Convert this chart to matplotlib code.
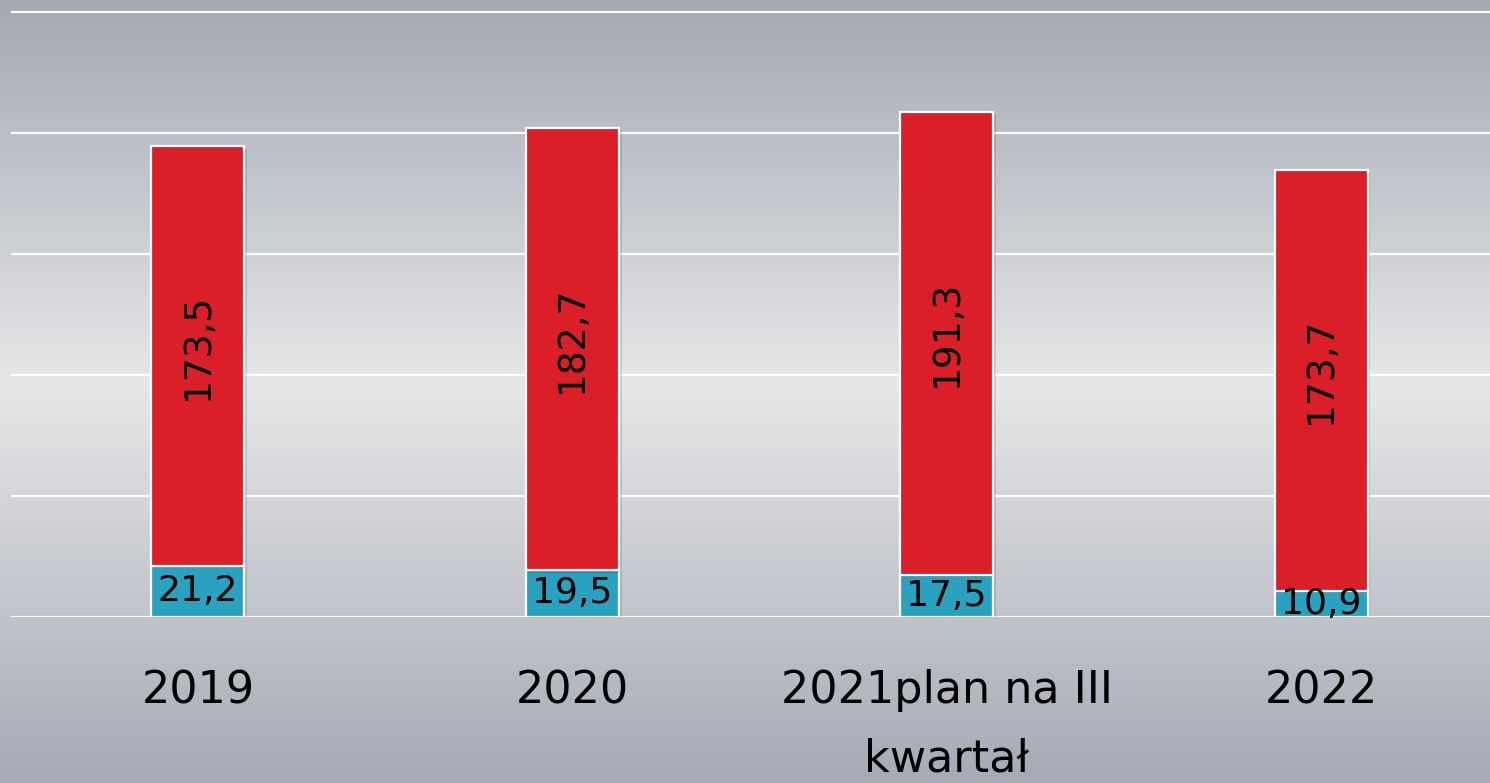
import numpy as np
import matplotlib
matplotlib.use("Agg")
import matplotlib.pyplot as plt
import matplotlib.patheffects as pe
import matplotlib.transforms as mtransforms
from matplotlib.colors import LinearSegmentedColormap

categories = ["2019", "2020", "2021plan na III\nkwartał", "2022"]
blue_vals = [21.2, 19.5, 17.5, 10.9]
red_vals = [173.5, 182.7, 191.3, 173.7]
blue_labels = ["21,2", "19,5", "17,5", "10,9"]
red_labels = ["173,5", "182,7", "191,3", "173,7"]

plt.rcParams['font.family'] = ['DejaVu Sans']

W, H = 1490, 783
fig = plt.figure(figsize=(W / 100, H / 100), dpi=100)

# background gradient
bg = fig.add_axes([0, 0, 1, 1], zorder=0)
bg.set_axis_off()
cmap = LinearSegmentedColormap.from_list(
    "bg", [(0.0, "#a3a8b2"), (0.49, "#e6e7e8"), (1.0, "#a6aab5")])
grad = np.linspace(0, 1, 256).reshape(-1, 1)
bg.imshow(grad, aspect="auto", cmap=cmap, extent=[0, 1, 0, 1], origin="upper")

base_y = 617
top_y = 0
ax = fig.add_axes([11 / W, (H - base_y) / H, (W - 11) / W, (base_y - top_y) / H], zorder=1)
ax.patch.set_alpha(0)
px_per_unit = (617 - 12) / 250.0
ax.set_ylim(0, (base_y - top_y) / px_per_unit)
spacing = 374.5
ax.set_xlim(-(198 - 11) / spacing, 3 + (W - 1321) / spacing)

x = np.arange(len(categories))
bw = 93 / spacing
shadow = [pe.SimplePatchShadow(offset=(2, -2), shadow_rgbFace="black", alpha=0.12), pe.Normal()]
b1 = ax.bar(x, blue_vals, width=bw, color="#2aa2bf", edgecolor="white", linewidth=1.6, zorder=3)
b2 = ax.bar(x, red_vals, bottom=blue_vals, width=bw, color="#da1f28", edgecolor="white", linewidth=1.6, zorder=3)
for p in list(b1) + list(b2):
    p.set_path_effects(shadow)

up = mtransforms.offset_copy(ax.transData, fig=fig, x=0, y=7, units="points")
for xi, b, r, bl, rl in zip(x, blue_vals, red_vals, blue_labels, red_labels):
    ax.text(xi, b / 2, bl, ha="center", va="center", fontsize=26, color="black", zorder=4)
    ax.text(xi, b + r / 2, rl, ha="center", va="center", rotation=90, fontsize=27,
            color="black", zorder=4, transform=up)

ax.set_yticks([0, 50, 100, 150, 200, 250])
ax.yaxis.grid(True, color="white", linewidth=1.6)
ax.set_axisbelow(True)
ax.tick_params(axis="y", left=False, labelleft=False)
ax.set_xticks(x)
ax.set_xticklabels(categories, fontsize=32, linespacing=1.75)
ax.tick_params(axis="x", bottom=False, pad=34)
for s in ax.spines.values():
    s.set_visible(False)

fig.savefig("out.png", dpi=100)
